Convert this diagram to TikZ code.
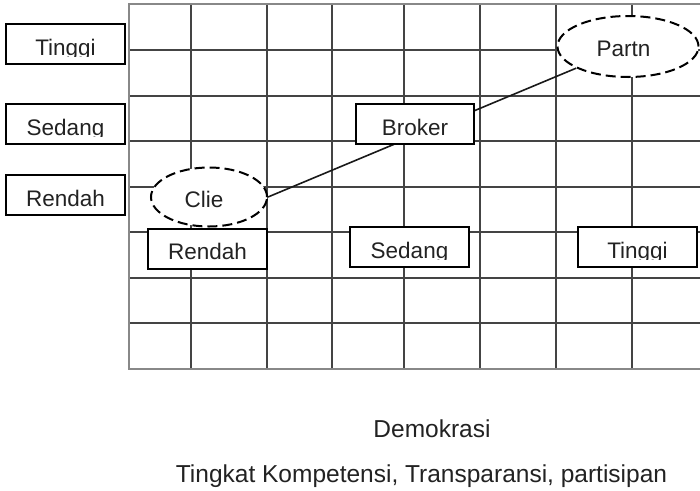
\documentclass[tikz,border=0pt]{standalone}
\usepackage{fontspec}
\setmainfont{Liberation Sans}
\usetikzlibrary{shapes.geometric}
\definecolor{ink}{HTML}{222222}
\definecolor{gridin}{HTML}{444444}
\definecolor{gridout}{HTML}{888888}
\newcommand\boxfont{\fontsize{22.5}{26}\selectfont}
\newcommand\axisfont{\fontsize{24.5}{29}\selectfont}
\tikzset{
  box/.style={draw=black, line width=2pt, fill=white, minimum width=119pt,
    minimum height=40pt, inner sep=0pt, text height=31pt, text depth=9pt,
    font=\boxfont, text=ink},
  cutbox/.style={box, path picture={
      \begin{scope}
        \clip ([yshift=8pt]path picture bounding box.south west) rectangle (path picture bounding box.north east);
        \node[anchor=base, inner sep=0pt, text=ink, font=\boxfont] at ([yshift=9pt]path picture bounding box.south) {#1};
      \end{scope}}},
  oval/.style={ellipse, draw=black, line width=2pt, dash pattern=on 10pt off 5pt,
    fill=white, inner sep=0pt, text height=20pt, text depth=0pt, font=\boxfont, text=ink},
  link/.style={draw=black!90, line width=1.6pt},
  axislabel/.style={font=\axisfont, text=ink, inner sep=0pt, anchor=base}
}
\begin{document}
\begin{tikzpicture}[x=1pt,y=-1pt]
\useasboundingbox (0,0) rectangle (700,490);
% grid
\foreach \x in {191,267,332,404,480,556,632}
  \draw[gridin, line width=1.1pt] (\x,4) -- (\x,369);
\foreach \y in {50,96,141,187,232,278,323}
  \draw[gridin, line width=1.1pt] (129,\y) -- (700,\y);
\draw[gridout, line width=2pt] (700,4) -- (129,4) -- (129,369) -- (700,369);
% ellipses
\node[oval, minimum width=116pt, minimum height=59pt] (clie) at (209,197) {Clie\hspace*{10pt}};
\node[oval, minimum width=141pt, minimum height=61pt] (partn) at (628,46.5) {Partn\hspace*{9pt}};
\draw[link] (clie.east) -- (partn);
% boxes
\node[cutbox=Tinggi] (lt) at (65.5,44) {};
\node[cutbox=Sedang] (ls) at (65.5,124) {};
\node[box] (lr) at (65.5,195) {Rendah};
\node[box, minimum width=118pt] (broker) at (415,124) {Broker};
\node[box] (br) at (207.5,248.5) {Rendah};
\node[cutbox=Sedang] (bs) at (409.5,247) {};
\node[cutbox=Tinggi] (bt) at (637.5,247) {};
% axis texts
\node[axislabel] (demo) at (432,437) {Demokrasi};
\node[axislabel] (ting) at (421.5,482) {Tingkat Kompetensi, Transparansi, partisipan};
\end{tikzpicture}
\end{document}
